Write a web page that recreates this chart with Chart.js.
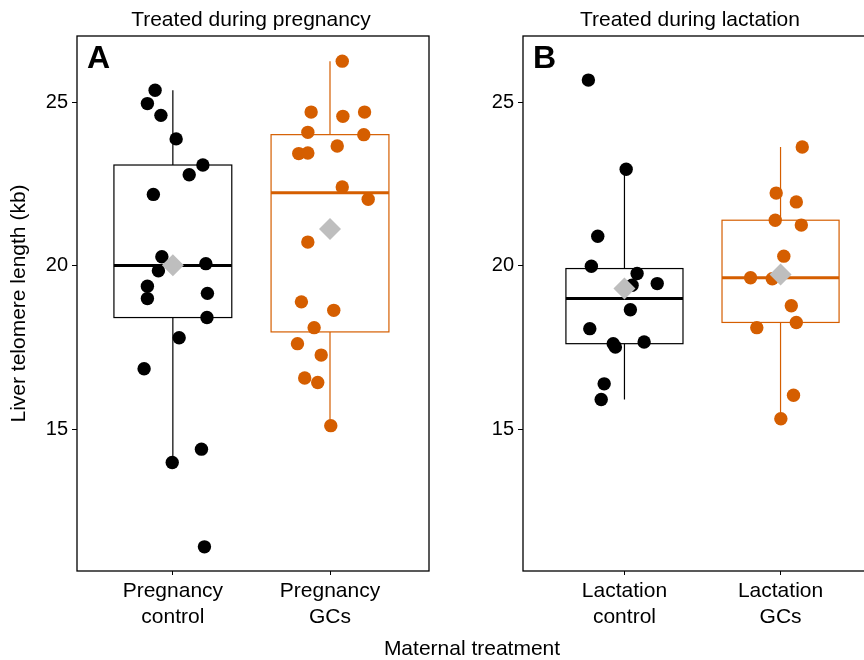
<!DOCTYPE html>
<html lang="en">
<head>
<meta charset="UTF-8">
<title>Liver telomere length by maternal treatment</title>
<script src="https://cdn.jsdelivr.net/npm/chart.js"></script>
<style>
  html, body { margin: 0; padding: 0; background: #fff; overflow: hidden; }
  body { width: 864px; height: 660px; position: relative; font-family: "Liberation Sans", Arial, sans-serif; color: #000; }
  canvas { position: absolute; top: 0; }
  .txt { position: absolute; white-space: nowrap; font-size: 21px; line-height: 21px; }
  .center { transform: translateX(-50%); }
  .tag { position: absolute; font-size: 32px; line-height: 32px; font-weight: bold; }
</style>
</head>
<body>
<canvas id="panelA" width="440" height="660" style="left:0"></canvas>
<canvas id="panelB" width="460" height="660" style="left:440px"></canvas>

<div class="txt center" style="left:251px; top:8px">Treated during pregnancy</div>
<div class="txt center" style="left:690px; top:8px">Treated during lactation</div>
<div class="tag" style="left:87px; top:41px">A</div>
<div class="tag" style="left:533px; top:41px">B</div>
<div class="txt center" style="left:472px; top:637px">Maternal treatment</div>

<script>
const yTicks = [15, 20, 25];
const pregnancyLabels = [['Pregnancy', 'control'], ['Pregnancy', 'GCs']];
const lactationLabels = [['Lactation', 'control'], ['Lactation', 'GCs']];

// individual animals (kb) and their horizontal jitter
const pregControl = [25.38, 24.97, 24.61, 23.89, 23.09, 22.79, 22.19, 20.28, 19.85, 20.07,
                     19.38, 19.00, 19.16, 18.42, 17.80, 16.85, 14.39, 13.98, 11.40];
const pregControlJitter = [-0.113, -0.162, -0.076, 0.021, 0.191, 0.104, -0.124, -0.070, -0.092, 0.210,
                           -0.162, -0.162, 0.220, 0.217, 0.040, -0.183, 0.182, -0.004, 0.201];
const pregGCs = [26.27, 24.71, 24.58, 24.71, 24.09, 24.02, 23.67, 23.44, 23.46, 22.42,
                 22.04, 20.73, 18.90, 18.64, 18.11, 17.62, 17.27, 16.57, 16.43, 15.11];
const pregGCsJitter = [0.078, -0.120, 0.082, 0.220, -0.141, 0.215, 0.046, -0.199, -0.141, 0.078,
                       0.243, -0.141, -0.182, 0.024, -0.101, -0.207, -0.056, -0.161, -0.078, 0.005];

const lactControl = [25.69, 22.96, 20.91, 19.99, 19.77, 19.46, 19.41, 18.66, 18.08, 17.62,
                     17.52, 17.67, 16.39, 15.91];
const lactControlJitter = [-0.231, 0.011, -0.171, -0.212, 0.081, 0.210, 0.049, 0.038, -0.222, -0.072,
                           -0.058, 0.126, -0.130, -0.149];
const lactGCs = [23.64, 22.23, 21.96, 21.40, 21.25, 20.30, 19.64, 19.61, 18.78, 18.27,
                 18.11, 16.04, 15.32];
const lactGCsJitter = [0.139, -0.028, 0.101, -0.034, 0.133, 0.021, -0.192, -0.053, 0.069, 0.101,
                       -0.152, 0.083, 0.002];

// box stats: [lower whisker, Q1, median, Q3, upper whisker]
const pregControlBox = [13.98, 18.42, 20.01, 23.09, 25.38];
const pregGCsBox = [15.11, 17.98, 22.24, 24.02, 26.27];
const lactControlBox = [15.91, 17.62, 19.00, 19.92, 22.96];
const lactGCsBox = [15.32, 18.27, 19.64, 21.40, 23.64];
const pregMeans = [20.02, 21.13];
const lactMeans = [19.31, 19.74];

const BLACK = '#000000';
const ORANGE = '#d55e00';
const FONT = '"Liberation Sans", Arial, sans-serif';
Chart.defaults.font.family = FONT;
Chart.defaults.color = '#000';

function toPoints(values, jitter, pos) {
    return values.map((v, i) => ({ x: pos + jitter[i], y: v }));
}

function makePanel(id, cfg) {
    const boxes = {
        id: 'boxes' + id,
        beforeDatasetsDraw(chart) {
            const { ctx, scales: { x, y } } = chart;
            cfg.boxes.forEach((s, i) => {
                const pos = i + 1;
                const left = x.getPixelForValue(pos - 0.375);
                const right = x.getPixelForValue(pos + 0.375);
                const cx = x.getPixelForValue(pos);
                const [lo, q1, med, q3, hi] = s.map(v => y.getPixelForValue(v));
                ctx.save();
                ctx.strokeStyle = cfg.colors[i];
                ctx.lineWidth = 1.2;
                ctx.beginPath();
                ctx.moveTo(cx, q3); ctx.lineTo(cx, hi);
                ctx.moveTo(cx, q1); ctx.lineTo(cx, lo);
                ctx.stroke();
                ctx.fillStyle = '#fff';
                ctx.fillRect(left, q3, right - left, q1 - q3);
                ctx.strokeRect(left, q3, right - left, q1 - q3);
                ctx.lineWidth = 3;
                ctx.beginPath();
                ctx.moveTo(left, med); ctx.lineTo(right, med);
                ctx.stroke();
                ctx.restore();
            });
        },
        afterDraw(chart) {
            const { ctx, chartArea: a } = chart;
            ctx.save();
            ctx.strokeStyle = '#000';
            ctx.lineWidth = 1.3;
            ctx.strokeRect(a.left, a.top, a.right - a.left, a.bottom - a.top);
            ctx.restore();
        }
    };

    return new Chart(document.getElementById(id), {
        type: 'scatter',
        data: {
            datasets: [
                {
                    data: cfg.means.map((m, i) => ({ x: i + 1, y: m })),
                    pointStyle: 'rectRot', pointRadius: 11,
                    backgroundColor: '#bebebe', borderWidth: 0
                },
                {
                    data: toPoints(cfg.control, cfg.controlJitter, 1),
                    pointRadius: 6.7, backgroundColor: BLACK, borderWidth: 0
                },
                {
                    data: toPoints(cfg.gcs, cfg.gcsJitter, 2),
                    pointRadius: 6.7, backgroundColor: ORANGE, borderWidth: 0
                }
            ]
        },
        options: {
            responsive: false,
            animation: false,
            events: [],
            layout: { padding: { top: 36, right: cfg.padRight, left: 0, bottom: 0 } },
            plugins: { legend: { display: false }, tooltip: { enabled: false } },
            scales: {
                x: {
                    type: 'linear', min: cfg.xMin, max: cfg.xMax,
                    afterBuildTicks: s => { s.ticks = [{ value: 1 }, { value: 2 }]; },
                    afterFit: s => { s.height = 89; },
                    grid: { drawOnChartArea: false, tickLength: 4, color: '#000', lineWidth: 1 },
                    border: { display: false },
                    ticks: {
                        callback: v => cfg.labels[v - 1],
                        font: { size: 21, lineHeight: 1.2 },
                        padding: 4, maxRotation: 0, autoSkip: false
                    }
                },
                y: {
                    min: 10.66, max: 27.04,
                    afterBuildTicks: s => { s.ticks = yTicks.map(v => ({ value: v })); },
                    afterFit: s => { s.width = cfg.yWidth; },
                    grid: { drawOnChartArea: false, tickLength: 5, color: '#000', lineWidth: 1 },
                    border: { display: false },
                    ticks: { font: { size: 20 }, padding: 4 },
                    title: {
                        display: cfg.yTitle,
                        text: 'Liver telomere length (kb)',
                        font: { size: 21 },
                        padding: { top: 7, bottom: 0 }
                    }
                }
            }
        },
        plugins: [boxes]
    });
}

makePanel('panelA', {
    labels: pregnancyLabels,
    control: pregControl, controlJitter: pregControlJitter,
    gcs: pregGCs, gcsJitter: pregGCsJitter,
    boxes: [pregControlBox, pregGCsBox], means: pregMeans,
    colors: [BLACK, ORANGE],
    xMin: 0.39, xMax: 2.63, yWidth: 77, padRight: 11, yTitle: true
});

makePanel('panelB', {
    labels: lactationLabels,
    control: lactControl, controlJitter: lactControlJitter,
    gcs: lactGCs, gcsJitter: lactGCsJitter,
    boxes: [lactControlBox, lactGCsBox], means: lactMeans,
    colors: [BLACK, ORANGE],
    xMin: 0.35, xMax: 2.65, yWidth: 83, padRight: 18, yTitle: false
});
</script>
</body>
</html>
